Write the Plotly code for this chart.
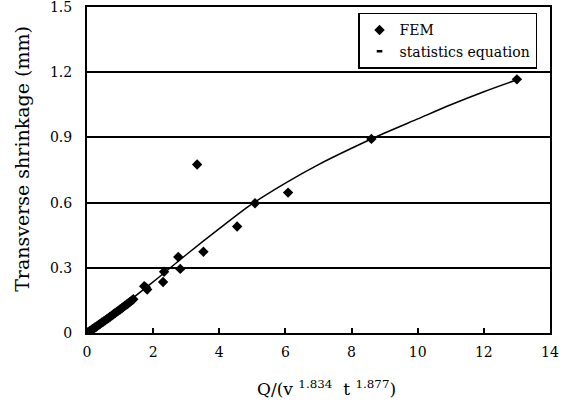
import plotly.graph_objects as go

# FEM results
fem_x = [0.02, 0.05, 0.08, 0.1, 0.13, 0.16, 0.2, 0.24, 0.28, 0.32, 0.36, 0.4, 0.45, 0.5,
         0.55, 0.6, 0.65, 0.7, 0.75, 0.8, 0.85, 0.9, 0.95, 1.0, 1.05, 1.1, 1.15, 1.2,
         1.25, 1.3, 1.35, 1.4,
         1.73, 1.78, 1.82, 2.3, 2.33, 2.76, 2.82, 3.33, 3.52, 4.54, 5.08, 6.08, 8.6, 13.0]
fem_y = [0.002, 0.005, 0.008, 0.01, 0.013, 0.017, 0.021, 0.025, 0.029, 0.034, 0.038, 0.042,
         0.048, 0.053, 0.058, 0.064, 0.069, 0.075, 0.08, 0.086, 0.092, 0.097, 0.103, 0.108,
         0.114, 0.12, 0.126, 0.131, 0.137, 0.143, 0.149, 0.155,
         0.215, 0.21, 0.2, 0.235, 0.282, 0.35, 0.295, 0.775, 0.374, 0.49, 0.597, 0.646, 0.893, 1.167]

# statistics equation curve
eq_x = [0, 1, 2, 3, 4, 5, 6, 7, 8, 9, 10, 11, 12, 13]
eq_y = [0, 0.115, 0.235, 0.36, 0.48, 0.595, 0.69, 0.775, 0.85, 0.92, 0.985, 1.05, 1.11, 1.165]

x_ticks = [0, 2, 4, 6, 8, 10, 12, 14]
y_ticks = [0, 0.3, 0.6, 0.9, 1.2, 1.5]
y_tick_text = ["0", "0.3", "0.6", "0.9", "1.2", "1.5"]

x_title = "Q/(v <sup>1.834</sup>  t <sup>1.877</sup>)"
y_title = "Transverse shrinkage (mm)"

serif = "DejaVu Serif"

fig = go.Figure()
fig.add_trace(go.Scatter(
    x=fem_x, y=fem_y, mode="markers", name="FEM",
    marker=dict(symbol="diamond", size=8, color="black"),
))
fig.add_trace(go.Scatter(
    x=eq_x, y=eq_y, mode="lines", name="statistics equation", showlegend=False,
    line=dict(color="black", width=1.5, shape="spline", smoothing=0.8),
))
fig.add_trace(go.Scatter(
    x=[None], y=[None], mode="markers", name="statistics equation",
    marker=dict(symbol="line-ew", size=4, color="black", line=dict(color="black", width=2.5)),
))

fig.update_layout(
    width=565, height=410,
    margin=dict(l=87, r=15, t=7, b=77),
    paper_bgcolor="white", plot_bgcolor="white",
    font=dict(family=serif, size=14, color="black"),
    showlegend=True,
    legend=dict(
        x=0.972, y=0.982, xanchor="right", yanchor="top",
        bgcolor="white", bordercolor="black", borderwidth=1.5,
        font=dict(family=serif, size=14, color="black"),
        tracegroupgap=0, itemwidth=30,
    ),
    xaxis=dict(
        range=[0, 14], tickvals=x_ticks, showgrid=False, zeroline=False,
        showline=True, linecolor="black", linewidth=2, mirror=True,
        ticks="inside", ticklen=5, tickwidth=1.5, tickcolor="black",
        tickfont=dict(family=serif, size=14), automargin=False,
        ticklabeloverflow="allow", ticklabelstandoff=5,
    ),
    yaxis=dict(
        range=[0, 1.5], tickvals=y_ticks, ticktext=y_tick_text,
        showgrid=True, gridcolor="black", gridwidth=1.5, zeroline=False,
        showline=True, linecolor="black", linewidth=2, mirror=True,
        ticks="", tickfont=dict(family=serif, size=14), automargin=False,
        ticklabeloverflow="allow", ticklabelstandoff=10,
    ),
    annotations=[
        dict(text=x_title, xref="paper", yref="paper", x=0.518, y=-0.168,
             xanchor="center", yanchor="middle", showarrow=False,
             font=dict(family=serif, size=17, color="black")),
        dict(text=y_title, xref="paper", yref="paper", x=-0.142, y=0.535,
             xanchor="center", yanchor="middle", showarrow=False, textangle=-90,
             font=dict(family=serif, size=19, color="black")),
    ],
)

fig.write_html("out.html")
